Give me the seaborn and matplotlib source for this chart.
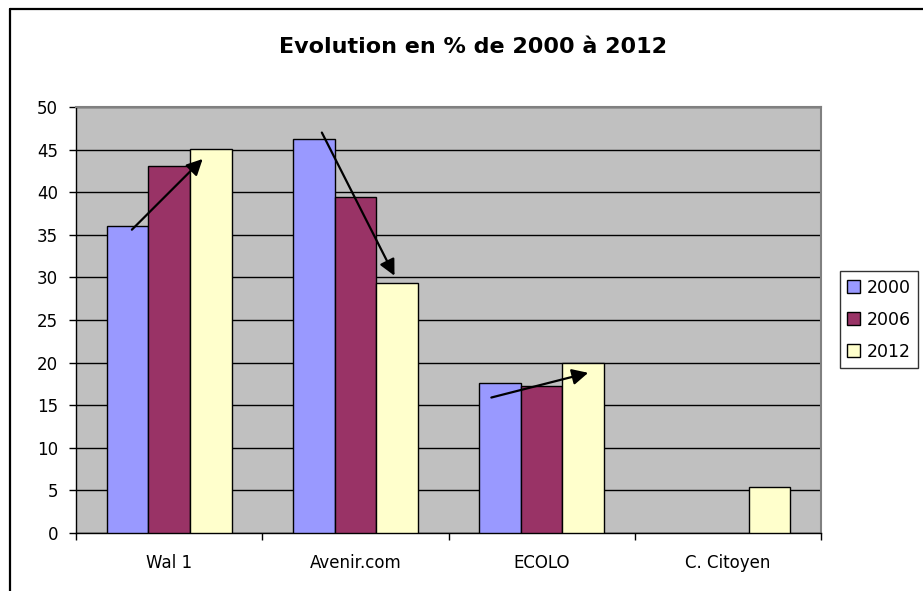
import matplotlib
matplotlib.use("Agg")
import matplotlib.pyplot as plt
from matplotlib.lines import Line2D
import seaborn as sns
import pandas as pd
import numpy as np

# values (percent)
partis = ["Wal 1", "Avenir.com", "ECOLO", "C. Citoyen"]
annees = ["2000", "2006", "2012"]
v2000 = [36.0, 46.2, 17.6, np.nan]
v2006 = [43.1, 39.4, 17.2, np.nan]
v2012 = [45.1, 29.3, 20.0, 5.4]
couleurs = ["#9999FF", "#993366", "#FFFFCC"]

# hand-drawn trend arrows: group, offset within group, percent
fleches_groupe = [0, 1, 2]
fleches_debut = [(-0.20, 35.6), (-0.18, 47.0), (-0.27, 15.9)]
fleches_fin = [(0.18, 43.9), (0.21, 30.2), (0.25, 18.8)]

df = pd.DataFrame({
    "parti": partis * 3,
    "annee": [a for a in annees for _ in partis],
    "valeur": v2000 + v2006 + v2012,
})

sns.set_style("white")
plt.rcParams["font.family"] = ["DejaVu Sans"]
plt.rcParams["text.color"] = "black"
plt.rcParams["xtick.color"] = "black"
plt.rcParams["ytick.color"] = "black"

fig = plt.figure(figsize=(9.23, 5.91), dpi=100)
ax = fig.add_axes([76 / 923, 1 - 533 / 591, 745 / 923, 426 / 591])
ax.set_facecolor("#C0C0C0")

sns.barplot(data=df, x="parti", y="valeur", hue="annee", order=partis,
            hue_order=annees, palette=couleurs, width=0.67, errorbar=None,
            edgecolor="black", linewidth=1.0, saturation=1, ax=ax, zorder=3)

ax.set_ylim(0, 50)
ax.set_xlim(-0.5, 3.5)
ax.set_yticks(range(0, 51, 5))
ax.yaxis.grid(True, color="black", linewidth=1.0, zorder=0)
ax.set_axisbelow(True)
ax.set_xlabel("")
ax.set_ylabel("")

ax.tick_params(axis="y", which="major", length=5, width=1, color="black",
               labelcolor="black", labelsize=12, pad=8, left=True,
               direction="out")
ax.tick_params(axis="x", which="major", length=0, labelsize=12,
               labelcolor="black", pad=15)
ax.set_xticks(np.arange(-0.5, 4, 1), minor=True)
ax.tick_params(axis="x", which="minor", length=5, width=1, color="black",
               bottom=True, direction="out")

for s in ["left", "bottom"]:
    ax.spines[s].set_color("black")
    ax.spines[s].set_linewidth(1.0)
for s in ["top", "right"]:
    ax.spines[s].set_color("#808080")
    ax.spines[s].set_linewidth(1.5)

for g, (x0, y0), (x1, y1) in zip(fleches_groupe, fleches_debut, fleches_fin):
    ax.annotate("", xy=(g + x1, y1), xytext=(g + x0, y0),
                arrowprops=dict(arrowstyle="-|>", color="black", lw=1.6,
                                mutation_scale=24, shrinkA=0, shrinkB=0),
                zorder=5)

leg = ax.legend(loc="upper left", bbox_to_anchor=(1.025, 0.615),
                frameon=True, fancybox=False, edgecolor="black",
                fontsize=12.5, handlelength=0.75, handleheight=0.75,
                handletextpad=0.35, labelspacing=0.8, borderpad=0.45,
                borderaxespad=0)
leg.get_frame().set_linewidth(1.0)
for h in leg.legend_handles:
    h.set_edgecolor("black")
    h.set_linewidth(1.0)

fig.text(473 / 923, 1 - 47 / 591, "Evolution en % de 2000 à 2012",
         ha="center", va="center", fontsize=16, fontweight="bold",
         color="black")

# outer chart frame
yt = 1 - 9 / 591
xl = 10 / 923
fig.add_artist(Line2D([xl, xl], [0, yt], color="black", lw=1.6,
                      transform=fig.transFigure))
fig.add_artist(Line2D([xl, 1], [yt, yt], color="black", lw=1.6,
                      transform=fig.transFigure))

fig.savefig("out.png", dpi=100)
